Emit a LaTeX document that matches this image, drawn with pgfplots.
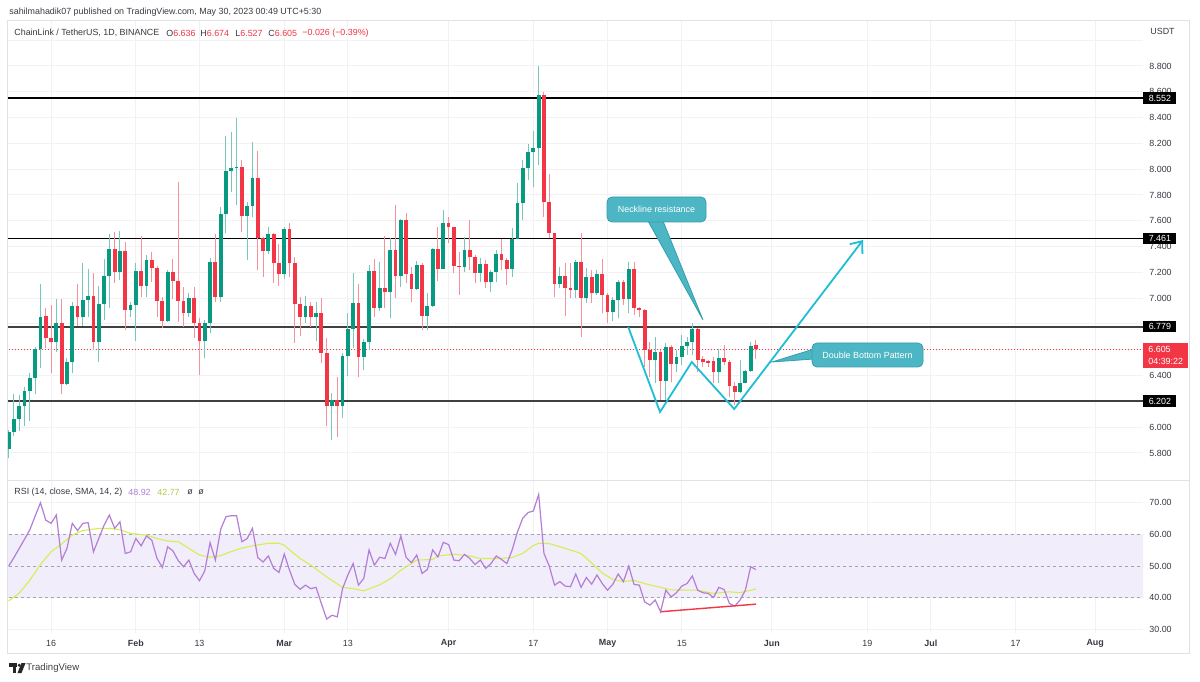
\documentclass[border=0pt]{standalone}
\usepackage{fontspec}
\setmainfont{Liberation Sans}
\usepackage{pgfplots}
\pgfplotsset{compat=1.18}
\usepackage{pgfplotstable}
\usetikzlibrary{arrows.meta}
\definecolor{cgreen}{RGB}{8,153,129}
\definecolor{cred}{RGB}{242,54,69}
\definecolor{gridc}{RGB}{242,242,245}
\definecolor{txt}{RGB}{55,58,66}
\definecolor{rsic}{RGB}{178,126,214}
\definecolor{smac}{RGB}{214,238,82}
\definecolor{bandc}{RGB}{240,235,250}
\definecolor{dashc}{RGB}{165,165,172}
\definecolor{tealbox}{RGB}{77,182,196}
\definecolor{tealedge}{RGB}{52,158,175}
\definecolor{cyanl}{RGB}{30,190,215}
\definecolor{framec}{RGB}{226,226,230}
\newcommand\tv{\fontsize{4.45pt}{5.2pt}\selectfont}
\pgfplotsset{candle/.style={only marks, mark=*, mark size=0pt, mark options={draw=none, fill=none},
  error bars/y dir=plus, error bars/y explicit, error bars/error mark=none}}

\pgfplotstableread{
t O H L C
0 5.83 5.98 5.76 5.965
1 5.965 6.257 5.93 6.063
2 6.063 6.25 5.97 6.164
3 6.164 6.314 6.012 6.283
4 6.283 6.417 6.05 6.384
5 6.384 6.624 6.26 6.606
6 6.606 7.107 6.456 6.851
7 6.859 6.926 6.611 6.689
8 6.689 6.947 6.417 6.663
9 6.663 6.99 6.58 6.805
10 6.805 6.99 6.26 6.332
11 6.332 6.54 6.33 6.503
12 6.503 6.968 6.417 6.94
13 6.94 7.107 6.784 6.851
14 6.851 7.27 6.784 6.986
15 6.986 7.23 6.857 7.017
16 7.017 7.198 6.598 6.663
17 6.663 7.094 6.508 6.955
18 6.955 7.30 6.83 7.169
19 7.169 7.497 6.921 7.384
20 7.384 7.51 7.12 7.205
21 7.205 7.52 7.14 7.368
22 7.368 7.438 6.753 6.908
23 6.908 6.97 6.857 6.947
24 6.947 7.275 6.67 7.213
25 7.213 7.485 7.01 7.094
26 7.094 7.335 7.01 7.296
27 7.296 7.36 7.128 7.231
28 7.231 7.25 6.857 6.98
29 6.98 7.01 6.766 6.826
30 6.826 7.22 6.818 7.20
31 7.20 7.30 6.99 7.136
32 7.136 7.90 6.818 6.98
33 6.98 7.084 6.779 6.888
34 6.888 7.037 6.857 6.999
35 6.999 7.084 6.689 6.805
36 6.805 6.843 6.404 6.665
37 6.665 6.83 6.533 6.805
38 6.805 7.309 6.727 7.278
39 7.278 7.495 6.973 7.006
40 7.006 7.709 6.973 7.65
41 7.65 8.257 7.502 7.986
42 7.986 8.285 7.825 8.006
43 8.006 8.399 7.722 8.017
44 8.017 8.07 7.515 7.637
45 7.637 7.748 7.296 7.714
46 7.714 8.208 7.632 7.934
47 7.934 8.143 7.218 7.464
48 7.464 7.477 7.166 7.368
49 7.368 7.549 7.342 7.495
50 7.495 7.508 7.12 7.27
51 7.27 7.42 7.094 7.187
52 7.187 7.554 7.146 7.533
53 7.533 7.585 7.161 7.275
54 7.275 7.322 6.655 6.955
55 6.955 7.011 6.706 6.856
56 6.856 7.016 6.81 6.942
57 6.942 6.973 6.779 6.856
58 6.856 6.973 6.67 6.882
59 6.882 6.998 6.495 6.577
60 6.577 6.688 6.009 6.164
61 6.164 6.262 5.90 6.21
62 6.21 6.391 5.926 6.164
63 6.164 6.573 6.069 6.552
64 6.552 6.883 6.397 6.759
65 6.759 7.198 6.612 6.96
66 6.96 7.11 6.387 6.547
67 6.547 6.681 6.444 6.658
68 6.658 7.258 6.599 7.211
69 7.211 7.301 6.852 6.922
70 6.922 7.283 6.90 7.077
71 7.077 7.482 6.922 7.046
72 7.046 7.464 6.844 7.374
73 7.374 7.723 7.004 7.172
74 7.172 7.612 7.084 7.606
75 7.606 7.658 7.115 7.188
76 7.188 7.245 6.968 7.072
77 7.072 7.291 7.064 7.258
78 7.258 7.276 6.754 6.865
79 6.865 7.043 6.754 6.942
80 6.942 7.387 6.935 7.379
81 7.379 7.555 7.133 7.229
82 7.229 7.684 7.224 7.586
83 7.586 7.632 7.431 7.55
84 7.55 7.55 7.193 7.252
85 7.252 7.361 7.025 7.245
86 7.245 7.477 7.206 7.374
87 7.374 7.606 7.219 7.317
88 7.317 7.335 7.115 7.193
89 7.193 7.309 7.128 7.265
90 7.265 7.296 7.077 7.123
91 7.123 7.219 7.051 7.206
92 7.206 7.374 7.128 7.342
93 7.342 7.457 7.219 7.296
94 7.296 7.309 7.103 7.224
95 7.224 7.542 7.167 7.459
96 7.459 7.896 7.459 7.741
97 7.741 8.071 7.606 8.007
98 8.007 8.193 7.916 8.136
99 8.136 8.299 7.86 8.162
100 8.162 8.80 8.033 8.575
101 8.575 8.601 7.632 7.748
102 7.748 7.963 7.464 7.508
103 7.508 7.508 7.007 7.11
104 7.11 7.245 7.077 7.172
105 7.172 7.27 6.862 7.077
106 7.077 7.27 7.0 7.064
107 7.064 7.296 7.0 7.278
108 7.278 7.503 6.702 7.0
109 7.0 7.232 6.96 7.167
110 7.167 7.219 6.965 7.038
111 7.038 7.219 7.025 7.185
112 7.185 7.301 6.883 7.025
113 7.025 7.038 6.805 6.896
114 6.896 7.007 6.826 6.986
115 6.986 7.141 6.844 7.128
116 7.128 7.141 6.946 6.991
117 6.991 7.283 6.883 7.226
118 7.226 7.283 6.87 6.921
119 6.921 6.935 6.857 6.908
120 6.908 6.92 6.469 6.598
121 6.598 6.66 6.39 6.521
122 6.521 6.70 6.34 6.585
123 6.585 6.60 6.21 6.361
124 6.361 6.65 6.21 6.624
125 6.624 6.64 6.35 6.49
126 6.49 6.60 6.43 6.547
127 6.547 6.715 6.482 6.632
128 6.632 6.70 6.56 6.658
129 6.658 6.81 6.56 6.759
130 6.759 6.766 6.43 6.521
131 6.528 6.55 6.47 6.503
132 6.51 6.52 6.47 6.50
133 6.513 6.547 6.34 6.43
134 6.43 6.61 6.34 6.534
135 6.534 6.637 6.48 6.503
136 6.503 6.521 6.237 6.32
137 6.32 6.353 6.172 6.275
138 6.275 6.521 6.262 6.345
139 6.345 6.44 6.34 6.438
140 6.438 6.663 6.43 6.63
141 6.636 6.674 6.527 6.605
}\candles

\pgfplotstableread{
t r
0 50.0
1 52.7
2 55.6
3 58.5
4 61.5
5 65.8
6 70.0
7 64.5
8 63.5
9 66.1
10 51.9
11 55.6
12 63.5
13 61.2
14 63.5
15 63.7
16 54.5
17 58.7
18 62.9
19 66.1
20 61.9
21 64.0
22 54.0
23 54.5
24 58.7
25 56.4
26 59.5
27 58.2
28 52.4
29 49.6
30 56.1
31 54.8
32 51.7
33 49.8
34 51.9
35 47.7
36 45.4
37 48.5
38 57.4
39 51.9
40 61.6
41 65.6
42 65.9
43 65.9
44 57.7
45 58.7
46 61.9
47 52.7
48 51.3
49 53.2
50 49.3
51 48.0
52 53.8
53 48.7
54 44.2
55 42.7
56 44.0
57 42.9
58 43.3
59 38.2
60 33.3
61 34.5
62 34.0
63 42.9
64 47.2
65 50.8
66 44.0
67 46.1
68 55.1
69 50.3
70 52.8
71 52.4
72 57.2
73 53.7
74 59.5
75 52.7
76 51.1
77 53.5
78 47.7
79 48.9
80 55.1
81 52.9
82 57.5
83 56.8
84 51.9
85 51.7
86 53.7
87 52.4
88 50.5
89 51.9
90 49.3
91 50.8
92 53.2
93 52.1
94 50.8
95 55.1
96 60.8
97 65.1
98 66.9
99 67.4
100 72.6
101 54.0
102 50.0
103 44.0
104 45.1
105 43.7
106 43.5
107 47.5
108 43.3
109 46.4
110 44.3
111 47.2
112 44.5
113 42.4
114 44.3
115 47.5
116 45.1
117 50.0
118 44.2
119 44.0
120 38.7
121 37.7
122 39.3
123 35.6
124 42.4
125 40.3
126 41.6
127 43.7
128 44.5
129 46.9
130 42.4
131 41.6
132 41.4
133 40.1
134 43.3
135 42.6
136 38.2
137 37.4
138 39.3
139 42.4
140 49.8
141 48.9
}\rsi

\pgfplotstableread{
t s
0 39.0
2 41.5
4 45.6
6 50.5
8 54.5
10 57.0
12 59.8
14 61.2
17 61.9
19 61.9
21 61.5
23 60.3
26 59.8
28 58.7
30 57.9
32 57.7
34 55.6
36 53.5
38 52.8
40 53.3
42 54.6
44 55.7
46 56.4
49 57.2
51 57.2
52 56.6
53 55.1
55 52.4
57 50.3
60 46.6
63 43.3
65 42.9
67 42.2
70 44.1
72 46.0
74 48.7
77 51.9
80 52.1
81 53.2
84 53.8
87 53.2
89 52.4
92 52.4
95 52.7
97 54.0
99 56.5
100 57.2
102 57.1
105 55.6
108 54.0
110 51.0
112 47.8
114 45.8
116 45.1
118 45.5
120 44.5
123 43.3
125 42.5
130 42.4
133 41.4
136 41.9
138 41.6
140 42.4
141 42.8
}\sma

\begin{document}
\begin{tikzpicture}
\useasboundingbox (0,0) rectangle (600pt,340.5pt);
\fill[white] (0,0) rectangle (600pt,340.5pt);

% ---------------- price pane ----------------
\begin{axis}[
  name=price, at={(3.5pt,101pt)}, anchor=south west,
  scale only axis, width=568pt, height=229.5pt,
  xmin=-0.315, xmax=214.03, ymin=5.5984, ymax=9.1566,
  axis line style={draw=none}, major tick length=0pt,
  xtick={8,24,36,52,64,83,99,113,127,144,162,174,190,205},
  xticklabels={},
  ytick={5.8,6,6.2,6.4,6.6,6.8,7,7.2,7.4,7.6,7.8,8,8.2,8.4,8.6,8.8,9},
  yticklabels={5.800,6.000,6.200,6.400,6.600,6.800,7.000,7.200,7.400,7.600,7.800,8.000,8.200,8.400,8.600,8.800,},
  yticklabel pos=right,
  yticklabel style={anchor=west, inner sep=0pt, xshift=3pt, font=\tv, text=txt},
  xmajorgrids, ymajorgrids, major grid style={draw=gridc, line width=0.5pt},
  clip=true,
]
% level lines
\addplot[black, line width=0.75pt] coordinates {(-1,8.552) (215,8.552)};
\addplot[black, line width=0.75pt] coordinates {(-1,7.461) (215,7.461)};
\addplot[black!75, line width=0.95pt] coordinates {(-1,6.779) (215,6.779)};
\addplot[black!75, line width=0.95pt] coordinates {(-1,6.202) (215,6.202)};
% last price dotted
\addplot[cred, line width=0.4pt, dash pattern=on 0.5pt off 1pt] coordinates {(-1,6.605) (215,6.605)};
% wicks
\addplot[candle, restrict expr to domain={\thisrow{C}-\thisrow{O}}{0:10},
  error bars/error bar style={line width=0.5pt, draw=cgreen!55}]
  table[x=t, y=L, y error expr=\thisrow{H}-\thisrow{L}] {\candles};
\addplot[candle, restrict expr to domain={\thisrow{C}-\thisrow{O}}{-10:-0.00001},
  error bars/error bar style={line width=0.5pt, draw=cred!55}]
  table[x=t, y=L, y error expr=\thisrow{H}-\thisrow{L}] {\candles};
% bodies
\addplot[candle, restrict expr to domain={\thisrow{C}-\thisrow{O}}{0:10},
  error bars/error bar style={line width=1.9pt, draw=cgreen}]
  table[x=t, y=O, y error expr={max(\thisrow{C}-\thisrow{O},0.008)}] {\candles};
\addplot[candle, restrict expr to domain={\thisrow{C}-\thisrow{O}}{-10:-0.00001},
  error bars/error bar style={line width=1.9pt, draw=cred}]
  table[x=t, y=C, y error expr=\thisrow{O}-\thisrow{C}] {\candles};
% double bottom W and arrow
\draw[cyanl, line width=0.9pt, line join=miter, -{Straight Barb[length=5pt,width=8pt,line width=0.9pt]}]
  (axis cs:116.9,6.777) -- (axis cs:122.9,6.118) -- (axis cs:128.9,6.505)
  -- (axis cs:136.9,6.141) -- (axis cs:161.2,7.451);
\end{axis}

% ---------------- RSI pane ----------------
\begin{axis}[
  name=rsi, at={(3.5pt,24pt)}, anchor=south west,
  scale only axis, width=568pt, height=76pt,
  xmin=-0.315, xmax=214.03, ymin=28.9, ymax=76.85,
  axis line style={draw=none}, major tick length=0pt,
  xtick={8,24,36,52,64,83,99,113,127,144,162,174,190,205},
  xticklabels={16,\textbf{Feb},13,\textbf{Mar},13,\textbf{Apr},17,\textbf{May},15,\textbf{Jun},19,\textbf{Jul},17,\textbf{Aug}},
  xticklabel style={anchor=center, yshift=-5pt, font=\tv, text=txt},
  ytick={30,40,50,60,70},
  yticklabels={30.00,40.00,50.00,60.00,70.00},
  yticklabel pos=right,
  yticklabel style={anchor=west, inner sep=0pt, xshift=3pt, font=\tv, text=txt},
  xmajorgrids, ymajorgrids, major grid style={draw=gridc, line width=0.5pt},
  clip=true,
]
\addplot[draw=none, fill=bandc, fill opacity=0.85] coordinates {(-1,40) (215,40) (215,60) (-1,60)} -- cycle;
\addplot[dashc, line width=0.45pt, dash pattern=on 1.5pt off 1.5pt] coordinates {(-1,60) (215,60)};
\addplot[dashc, line width=0.45pt, dash pattern=on 1.5pt off 1.5pt] coordinates {(-1,50) (215,50)};
\addplot[dashc, line width=0.45pt, dash pattern=on 1.5pt off 1.5pt] coordinates {(-1,40) (215,40)};
\addplot[smac, line width=0.55pt] table[x=t, y=s] {\sma};
\addplot[rsic, line width=0.6pt] table[x=t, y=r] {\rsi};
\addplot[cred, line width=0.7pt] coordinates {(123,35.6) (141,38.0)};
\end{axis}

% ---------------- pixel-space overlay ----------------
\begin{scope}[x=0.5pt, y=-0.5pt, yshift=340.5pt]
\draw[framec, line width=0.5pt] (7,20.5) rectangle (1189,653);
\draw[framec, line width=0.5pt] (7,480) -- (1189,480);
% header
\node[anchor=west, inner sep=0pt, font=\tv, text=txt] at (9,12) {sahilmahadik07 published on TradingView.com, May 30, 2023 00:49 UTC+5:30};
\node[anchor=west, inner sep=0pt, font=\tv, text=txt] at (14,33) {ChainLink / TetherUS, 1D, BINANCE};
\node[anchor=west, inner sep=0pt, font=\tv, text=txt] at (166,33) {O\textcolor{cred}{6.636}};
\node[anchor=west, inner sep=0pt, font=\tv, text=txt] at (200,33) {H\textcolor{cred}{6.674}};
\node[anchor=west, inner sep=0pt, font=\tv, text=txt] at (235,33) {L\textcolor{cred}{6.527}};
\node[anchor=west, inner sep=0pt, font=\tv, text=txt] at (268,33) {C\textcolor{cred}{6.605}};
\node[anchor=west, inner sep=0pt, font=\tv, text=cred] at (302,33) {−0.026 (−0.39\%)};
\node[anchor=west, inner sep=0pt, font=\tv, text=txt] at (1150,31) {USDT};
% RSI legend
\node[anchor=west, inner sep=0pt, font=\tv, text=txt] at (14,492) {RSI (14, close, SMA, 14, 2)};
\node[anchor=west, inner sep=0pt, font=\tv, text=rsic] at (128,492) {48.92};
\node[anchor=west, inner sep=0pt, font=\tv, text=smac!85!black] at (157,492) {42.77};
\node[anchor=west, inner sep=0pt, font=\tv, text=txt] at (187,492) {ø};
\node[anchor=west, inner sep=0pt, font=\tv, text=txt] at (198,492) {ø};
% level labels
\foreach \yy/\lab in {98/8.552, 238.7/7.461, 326.7/6.779, 401.1/6.202}{
  \node[anchor=west, fill=black, text=white, inner sep=0pt, minimum width=16.5pt, minimum height=5.6pt, font=\tv] at (1143,\yy) {\lab};
}
% current price box
\fill[cred] (1143,343) rectangle (1188,368);
\node[anchor=west, inner sep=0pt, font=\tv, text=white] at (1148,349.5) {6.605};
\node[anchor=west, inner sep=0pt, font=\tv, text=white] at (1148,361.5) {04:39:22};
% Neckline callout
\filldraw[fill=tealbox, draw=tealedge, line width=0.4pt] (648,221) -- (663,221) -- (703,320) -- cycle;
\filldraw[fill=tealbox, draw=tealedge, line width=0.4pt, rounded corners=2.5pt] (607,197) rectangle (706,222);
\node[inner sep=0pt, font=\tv, text=white] at (656.5,209.5) {Neckline resistance};
% Double bottom callout
\filldraw[fill=tealbox, draw=tealedge, line width=0.4pt] (814,349) -- (772,362) -- (814,359) -- cycle;
\filldraw[fill=tealbox, draw=tealedge, line width=0.4pt, rounded corners=2.5pt] (812,343) rectangle (923,367);
\node[inner sep=0pt, font=\tv, text=white] at (867.5,355) {Double Bottom Pattern};
% TradingView logo
\fill[black!85] (9,663) rectangle (17,666.5);
\fill[black!85] (12.5,663) rectangle (16,673);
\fill[black!85] (19.2,665.2) circle (1.6);
\fill[black!85] (21.5,663) -- (25.5,663) -- (21.5,673) -- (17.5,673) -- cycle;
\node[anchor=west, inner sep=0pt, font=\fontsize{4.8pt}{5.5pt}\selectfont, text=black!75] at (26,668) {TradingView};
\end{scope}
\end{tikzpicture}
\end{document}
